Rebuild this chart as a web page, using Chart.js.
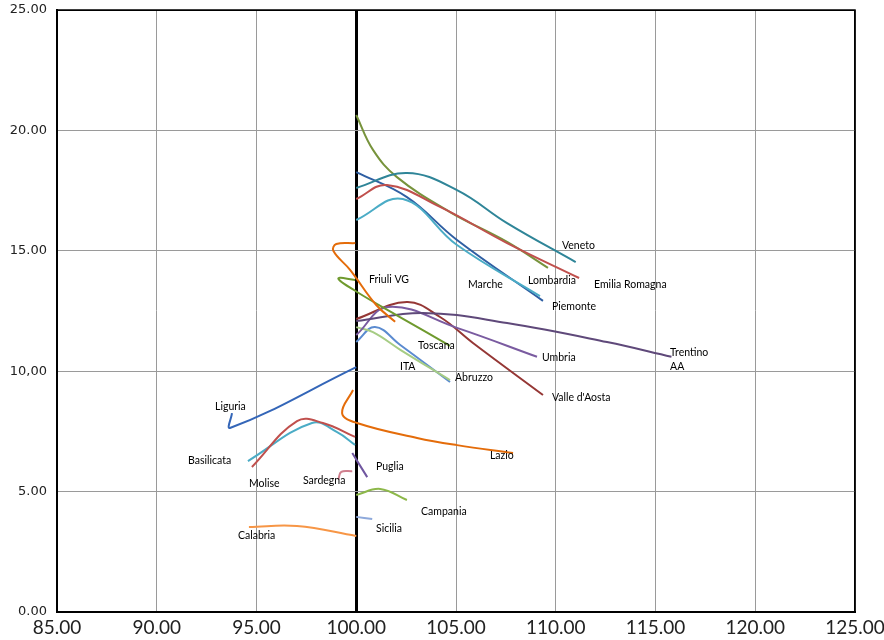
<!DOCTYPE html>
<html>
<head>
<meta charset="utf-8">
<script src="https://cdn.jsdelivr.net/npm/chart.js@4.4.1/dist/chart.umd.min.js"></script>
<style>
  html, body { margin: 0; padding: 0; background: #ffffff; }
  #wrap { width: 884px; height: 640px; }
</style>
</head>
<body>
<div id="wrap"><canvas id="chart" width="884" height="640"></canvas></div>
<script>
// Axis tick labels
const xTickLabels = ['85.00', '90.00', '95.00', '100.00', '105.00', '110.00', '115.00', '120.00', '125.00'];
const yTickLabels = ['0.00', '5.00', '10,00', '15.00', '20.00', '25.00'];

// Trajectories per region: [x, y] pairs
const veneto        = [[100.0, 17.61], [102.54, 18.23], [105.05, 17.52], [107.56, 16.15], [111.0, 14.53]];
const emiliaRomagna = [[100.0, 17.15], [101.54, 17.73], [104.2, 16.82], [107.56, 15.32], [111.17, 13.87]];
const lombardia     = [[100.0, 20.64], [100.84, 19.19], [102.04, 18.06], [104.7, 16.61], [107.56, 15.37], [109.61, 14.29]];
const marche        = [[100.0, 16.28], [102.34, 17.15], [105.05, 15.24], [109.21, 13.12]];
const piemonte      = [[100.0, 18.27], [102.54, 17.23], [105.05, 15.45], [109.36, 12.92]];
const friuliVG      = [[99.95, 15.32], [99.0, 15.28], [98.85, 15.0], [99.7, 14.2], [101.0, 12.75], [101.95, 12.05]];
const toscana       = [[99.94, 13.79], [99.1, 13.85], [100.04, 13.29], [102.19, 12.25], [104.7, 11.05]];
const trentinoAA    = [[100.0, 12.08], [103.35, 12.42], [107.56, 12.0], [112.57, 11.21], [115.8, 10.6]];
const umbria        = [[100.0, 11.5], [101.6, 12.67], [105.05, 11.8], [109.06, 10.6]];
const valleDAosta   = [[100.0, 12.17], [102.54, 12.87], [104.2, 12.25], [105.85, 11.17], [109.36, 9.01]];
const ita           = [[100.0, 11.83], [100.84, 11.62], [102.19, 10.9], [104.7, 9.63]];
const abruzzo       = [[100.0, 11.21], [100.94, 11.84], [102.19, 11.1], [104.7, 9.55]];
const liguria       = [[93.77, 8.26], [93.7, 7.65], [100.0, 10.17]];
const molise        = [[94.77, 6.02], [97.03, 7.93], [98.33, 7.85], [99.94, 7.27]];
const basilicata    = [[94.57, 6.27], [97.78, 7.85], [99.04, 7.47], [99.94, 6.94]];
const sardegna      = [[99.1, 5.5], [99.25, 5.82], [99.8, 5.85]];
const puglia        = [[99.8, 6.6], [100.55, 5.6]];
const lazio         = [[99.84, 9.22], [99.29, 8.26], [100.04, 7.85], [103.05, 7.23], [105.05, 6.93], [107.86, 6.6]];
const campania      = [[100.0, 4.86], [101.2, 5.11], [102.54, 4.65]];
const sicilia       = [[100.0, 3.95], [100.8, 3.86]];
const calabria      = [[94.62, 3.53], [97.03, 3.57], [100.0, 3.16]];

// Region name labels, anchored in data units (left edge, vertical middle)
const regionLabels = [
  ['Veneto', 110.31, 15.2],
  ['Lombardia', 108.61, 13.75],
  ['Emilia Romagna', 111.92, 13.58],
  ['Marche', 105.6, 13.58],
  ['Piemonte', 109.81, 12.67],
  ['Friuli VG', 100.64, 13.79],
  ['Toscana', 103.1, 11.05],
  ['ITA', 102.19, 10.17],
  ['Abruzzo', 104.95, 9.72],
  ['Umbria', 109.31, 10.55],
  ['Trentino', 115.73, 10.76],
  ['AA', 115.73, 10.17],
  ["Valle d'Aosta", 109.81, 8.89],
  ['Liguria', 92.92, 8.51],
  ['Basilicata', 91.57, 6.27],
  ['Molise', 94.62, 5.32],
  ['Sardegna', 97.33, 5.44],
  ['Puglia', 100.99, 6.02],
  ['Lazio', 106.7, 6.48],
  ['Campania', 103.25, 4.15],
  ['Sicilia', 100.99, 3.45],
  ['Calabria', 94.07, 3.16]
];

// Series with their line colours
const series = [
  ['Veneto', veneto, '#2f8598'],
  ['Emilia Romagna', emiliaRomagna, '#c0504d'],
  ['Lombardia', lombardia, '#77933c'],
  ['Marche', marche, '#4bacc6'],
  ['Piemonte', piemonte, '#2f5fa3'],
  ['Friuli VG', friuliVG, '#e46c0a'],
  ['Toscana', toscana, '#6f9a2e'],
  ['Trentino AA', trentinoAA, '#5f497a'],
  ['Umbria', umbria, '#7a5ba0'],
  ["Valle d'Aosta", valleDAosta, '#953735'],
  ['ITA', ita, '#a6cc84'],
  ['Abruzzo', abruzzo, '#5b8bd0'],
  ['Liguria', liguria, '#3466b8'],
  ['Molise', molise, '#c0504d'],
  ['Basilicata', basilicata, '#4bacc6'],
  ['Sardegna', sardegna, '#d07f8e'],
  ['Puglia', puglia, '#7057a0'],
  ['Lazio', lazio, '#e46c0a'],
  ['Campania', campania, '#8db84a'],
  ['Sicilia', sicilia, '#8ea9db'],
  ['Calabria', calabria, '#f79646']
];

const datasets = series.map(([name, pts, color]) => ({
  label: name,
  data: pts.map(([x, y]) => ({ x, y })),
  showLine: true,
  borderColor: color,
  backgroundColor: color,
  borderWidth: 2,
  pointRadius: 0,
  pointHoverRadius: 0,
  tension: 0.4,
  fill: false
}));

// Draws the region names and the outer frame of the plot area
const annotations = {
  id: 'annotations',
  afterDatasetsDraw(chart) {
    const { ctx, chartArea, scales } = chart;
    ctx.save();
    ctx.strokeStyle = '#000';
    ctx.lineWidth = 1.5;
    ctx.beginPath();
    ctx.moveTo(chartArea.left, chartArea.top);
    ctx.lineTo(chartArea.right, chartArea.top);
    ctx.lineTo(chartArea.right, chartArea.bottom);
    ctx.stroke();

    ctx.fillStyle = '#000';
    ctx.font = '10.5px Lato';
    ctx.textAlign = 'left';
    ctx.textBaseline = 'middle';
    regionLabels.forEach(([text, x, y]) => {
      ctx.fillText(text, scales.x.getPixelForValue(x), scales.y.getPixelForValue(y));
    });
    ctx.restore();
  }
};

new Chart(document.getElementById('chart'), {
  type: 'scatter',
  data: { datasets },
  options: {
    responsive: false,
    animation: false,
    devicePixelRatio: 1,
    layout: { padding: { left: 0, right: 29, top: 10, bottom: 0 } },
    plugins: { legend: { display: false }, tooltip: { enabled: false } },
    scales: {
      x: {
        type: 'linear',
        min: 85,
        max: 125,
        ticks: {
          stepSize: 5,
          padding: 4,
          color: '#222',
          font: { family: 'Lato', size: 19 },
          maxRotation: 0,
          autoSkip: false,
          callback: (v) => xTickLabels[Math.round((v - 85) / 5)]
        },
        grid: {
          drawTicks: false,
          color: (c) => (c.tick && (c.tick.value === 100 || c.tick.value === 125)) ? '#000' : '#9a9a9a',
          lineWidth: (c) => (c.tick && c.tick.value === 100) ? 3 : (c.tick && c.tick.value === 125 ? 1.5 : 1)
        },
        border: { color: '#000', width: 2 },
        afterFit: (s) => { s.height = 28; s.paddingLeft = 0; s.paddingRight = 0; }
      },
      y: {
        type: 'linear',
        min: 0,
        max: 25,
        ticks: {
          stepSize: 5,
          padding: 10,
          color: '#222',
          font: { family: 'DejaVu Sans', size: 13 },
          callback: (v) => yTickLabels[Math.round(v / 5)]
        },
        grid: {
          drawTicks: false,
          color: (c) => (c.tick && c.tick.value === 25) ? '#000' : '#9a9a9a',
          lineWidth: 1
        },
        border: { color: '#000', width: 2 },
        afterFit: (s) => { s.width = 57; s.paddingTop = 0; s.paddingBottom = 0; }
      }
    }
  },
  plugins: [annotations]
});
</script>
</body>
</html>
